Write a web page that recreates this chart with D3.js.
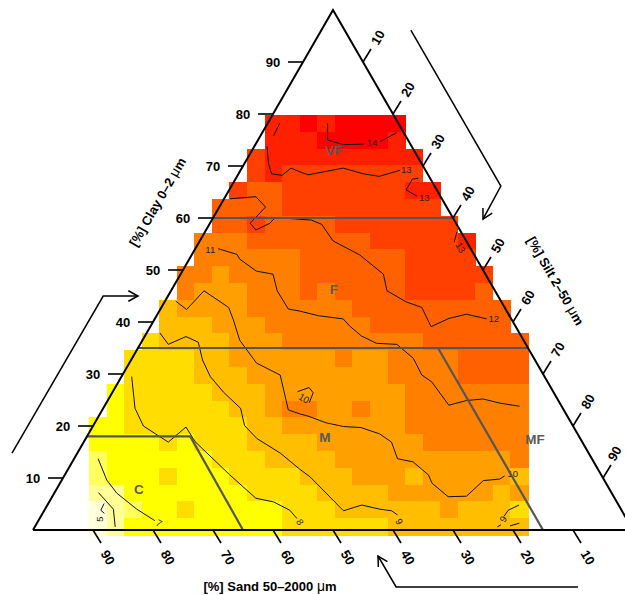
<!DOCTYPE html>
<html><head><meta charset="utf-8">
<script src="https://cdn.jsdelivr.net/npm/d3@7/dist/d3.min.js"></script>
<style>html,body{margin:0;padding:0;background:#fff}svg{display:block}text{font-family:"Liberation Sans",Arial,sans-serif}</style>
</head><body><svg id="c" width="625" height="595"></svg>
<script>
// Raster: first filled column of each row, and the cell values (soil property) per row from the top row down
const rowStart=[10,10,9,9,8,7,7,6,6,5,5,4,4,3,2,2,1,1,0,0,0,0,0,0,0];
const r00=[14,14,14.5,14,14.5,14.5,14.5,14.5];
const r01=[14,14,14,14.5,14.5,14.5,14.5,14];
const r02=[13,14,14,14,14,14,14,14,14,14];
const r03=[13,14,13,13,13,13,13,13,13,13];
const r04=[13,12,12,13,13,13,13,13,13,13,14,14];
const r05=[12,12,12,12,13,13,13,13,13,13,13,13,13];
const r06=[12,12,13,12,12,12,12,13,13,13,13,13,13,13];
const r07=[11,11,11,12,12,12,12,12,12,12,13,13,13,13,13,14];
const r08=[11,11,11,11,11,11,12,12,12,12,12,12,13,13,13,13];
const r09=[11,11,10,11,11,11,11,12,12,12,12,12,12,13,13,13,13,13];
const r10=[11,10,10,10,11,11,11,12,11,12,12,12,12,13,13,13,13,12];
const r11=[9.5,10,10,10,10,11,11,11,11,11,11,12,12,12,12,12,12,12,12,12];
const r12=[9.5,9.5,9.5,10,10,10,11,11,11,11,11,11,12,12,12,12,12,12,12,12];
const r13=[8.5,9.5,9.5,9.5,9.5,10,10,10,11,11,11,11,11,11,11,11,12,12,12,12,12,12];
const r14=[8.5,8.5,8.5,8.5,9.5,9.5,10,10,10,10,10,10,11,10,10,11,11,11,11,12,12,12,12];
const r15=[8.5,8.5,8.5,8.5,9.5,9.5,9.5,10,10,10,10,10,10,10,10,11,11,11,11,12,12,12,12];
const r16=[7.5,8.5,8.5,8.5,8.5,8.5,9.5,9.5,9.5,10,10,10,10,10,10,10,10,11,11,11,11,11,11,11];
const r17=[7.5,8.5,8.5,8.5,8.5,8.5,8.5,9.5,9.5,10,11,11,10,10,11,10,10,11,11,11,11,11,11,11];
const r18=[7.5,7.5,8.5,8.5,8.5,8.5,8.5,8.5,8.5,9.5,9.5,10,10,10,10,10,10,10,11,11,11,11,11,11,11];
const r19=[7.5,7.5,7.5,7.5,8.5,7.5,8.5,8.5,8.5,9.5,9.5,9.5,9.5,10,10,10,10,10,10,11,11,11,11,11,11];
const r20=[6.5,7.5,7.5,7.5,7.5,7.5,7.5,8.5,8.5,8.5,9.5,9.5,9.5,9.5,10,10,10,10,10,10,10,10,10,10,11];
const r21=[6.5,7.5,7.5,7.5,8.5,7.5,7.5,7.5,8.5,8.5,8.5,8.5,9.5,9.5,9.5,10,10,10,9.5,10,10,10,10,10,9.5];
const r22=[6,6,7.5,7.5,7.5,7.5,7.5,7.5,7.5,8.5,8.5,8.5,8.5,9.5,9.5,9.5,9.5,10,10,10,10,10,10,9.5,10];
const r23=[5.5,6,6.5,7.5,7.5,8.5,7.5,7.5,7.5,7.5,7.5,8.5,8.5,8.5,9.5,9.5,9.5,9.5,9.5,9.5,10,9.5,9.5,9.5,8.5];
const r24=[5.5,6,7.5,7.5,7.5,7.5,7.5,7.5,7.5,7.5,7.5,8.5,8.5,8.5,8.5,8.5,8.5,9.5,9.5,9.5,9.5,9.5,9.5,9.5,9.5];
const rasterRows=[r00,r01,r02,r03,r04,r05,r06,r07,r08,r09,r10,r11,r12,r13,r14,r15,r16,r17,r18,r19,r20,r21,r22,r23,r24];
const breaks=[5.75,6.25,7,8,9,9.75,10.5,11.5,12.5,13.5,14.25];
const ramp=["#FFFFD8","#FFFF98","#FFFF60","#FFFF00","#FFDD00","#FFBF00","#FF9F00","#FF8000","#FF6000","#FF4000","#FF2000","#FF0000"];

// Contours as [silt %, clay %]
const c14a=[[10,78.2],[11.6,75],[14.7,74.1],[18,74.2]];
const c14b=[[20.5,74.7],[22.4,76.4]];
const c13a=[[2,78.2],[2.2,75.8]];
const c13b=[[2.1,73.8],[4,70.5],[5.5,68.5],[7.4,68.2],[8.2,69.6],[10,68.9],[11.7,68.3],[16.9,69.6],[20.8,68.5],[23.7,68],[26.6,69.2]];
const c13c=[[30.4,67.6],[29.5,67.5],[29.5,65.4],[31.9,64.2]];
const c13d=[[42,57.3],[42.5,55.4]];
const c12=[[1,63.7],[5.1,64.1],[7.7,62.1],[6.7,59],[8.3,57.7],[10,59],[10.3,60.1],[16.6,59.6],[18.7,58.8],[22.2,55.6],[28,52.9],[33.8,49.2],[36,46],[40.2,43.9],[43.4,42.8],[46.8,39.1],[49,40.7],[51.5,41.5],[55.3,40.6]];
const c11=[[3.8,54.1],[7.5,53],[8.4,52.1],[12.3,49.8],[15.4,49.2],[17.7,46],[21.3,42.5],[23.4,42.1],[27,41.2],[31.4,40.6],[33.2,39.2],[36.1,37.3],[39.3,35.9],[42.8,35.7],[46.9,33],[49.9,29.8],[52.2,28.5],[57.3,24],[59.8,24.9],[62.4,25.2],[65.6,24.4],[69.2,23.8]];
const c10a=[[1.8,44],[4.4,42.4],[5.5,46],[11.2,42.8],[13.2,40.4],[16.2,36.5],[21.2,32.1],[26.3,29.8],[31,23.1],[33.4,22.3],[34.9,21.9],[38.6,20.6],[41.8,19.9],[44.8,19.7],[48.5,18.5],[51.3,16.9],[53.9,13.7],[56.8,13.1],[60.6,10.6],[62,9],[66,6.4],[69,6.5],[70.3,9.5],[72.9,9.8],[73.4,10.4]];
const c10b=[[30.8,26.6],[32.3,27.4],[33.5,26.4],[33.8,24.5]];
const c9a=[[2.2,37.9],[4.7,35.7],[6.9,37.2],[9.5,36.1],[11.9,32.7],[14.8,29.5],[18.5,26.5],[22.9,23.4],[25.2,20.1],[28.5,17.6],[33.8,14.8],[38.6,11.7],[41.1,10.2],[49.9,3.7],[52.4,4.8],[55.8,4],[57.9,3.7],[59.3,2.9]];
const c9b=[[78.6,4.8],[77.3,3.8],[77.2,2.6]];
const c9c=[[77.5,1],[77.1,0.6]];
const c9d=[[80.4,1.3],[79.1,0.8]];
const c8=[[1.7,29.5],[5.3,23.4],[8.4,20],[14.1,16.9],[15.6,19.8],[18.5,17],[27.5,10.6],[34.1,6.1],[37.4,5.4],[40.9,3.8],[42.9,2.2]];
const c7=[[4,13.7],[7.5,9.6],[10.4,7.1],[15.3,4],[19.4,1.8]];
const c6=[[7.3,7.2],[11.4,4],[13.4,0.6]];
const c5=[[9.3,5.1],[9.4,3.8],[10.3,3.2]];
const contours=[c14a,c14b,c13a,c13b,c13c,c13d,c12,c11,c10a,c10b,c9a,c9b,c9c,c9d,c8,c7,c6,c5];
// Contour labels: text, silt, clay, angle
const contourLabels=[["14",19.25,74.5,0],["13",27.6,69.2,0],["13",33.2,64,0],["13",44.1,54.3,60],["12",56.5,40.6,0],["11",2.6,53.9,0],["10",74.5,10.9,0],["10",32.5,25.3,30],["9",60.25,1.6,60],["9",77.3,2.1,-60],["8",43.75,1.5,60],["7",20.35,1.3,30],["5",10.1,2.1,-90]];

// Texture class boundaries as [silt, clay] vertices
const classLines=[[[0,60],[40,60]],[[0,35],[65,35]],[[0,18],[17.2,18],[35,0]],[[50,35],[85,0]]];
const classNames=["VF","F","M","MF","C"];
const classPos=[[13.6,73.1],[27,46.3],[39.7,17.9],[74.9,17.5],[13.7,7.9]];
const ticks=[10,20,30,40,50,60,70,80,90];
// Direction arrows as [silt, clay] vertices
const arrowClay=[[-10.9,14.8],[-10.8,45],[-5,45]];
const arrowSilt=[[14.9,96.15],[44.9,66.15],[45.1,59.8]];
const arrowSand=[[96.3,-10.96],[66,-10.96],[60,-5]];

const svg=d3.select("#c");
const bx=d3.scaleLinear().domain([0,100]).range([33,633]);   // position along the base (silt + clay/2)
const cy=d3.scaleLinear().domain([0,100]).range([530,10]);   // clay
const X=(si,cl)=>bx(si+cl/2), Y=cl=>cy(cl);
const colorOf=d3.scaleThreshold().domain(breaks).range(ramp);
const colBand=d3.scaleBand().domain(d3.range(25)).range([89,528]);
const rowBand=d3.scaleBand().domain(d3.range(25)).range([115,535]);

rasterRows.forEach((vals,r)=>{
  svg.append("g").attr("shape-rendering","crispEdges").selectAll("rect").data(vals).join("rect")
    .attr("x",(d,i)=>colBand(rowStart[r]+i)).attr("y",rowBand(r))
    .attr("width",colBand.bandwidth()+0.5).attr("height",rowBand.bandwidth()+0.5)
    .attr("fill",d=>colorOf(d));
});

const ln=d3.line().x(d=>X(d[0],d[1])).y(d=>Y(d[1]));
svg.append("g").selectAll("path").data(contours).join("path")
  .attr("d",ln).attr("fill","none").attr("stroke","#111").attr("stroke-width",1);
svg.append("g").selectAll("text").data(contourLabels).join("text")
  .attr("transform",d=>`translate(${X(d[1],d[2])},${Y(d[2])}) rotate(${d[3]})`)
  .attr("text-anchor","middle").attr("dy","0.35em").attr("font-size",9.5).attr("fill","#222").text(d=>d[0]);

svg.append("g").selectAll("path").data(classLines).join("path")
  .attr("d",ln).attr("fill","none").attr("stroke","#555").attr("stroke-width",2.2);
svg.append("g").selectAll("text").data(classNames).join("text")
  .attr("x",(d,i)=>X(classPos[i][0],classPos[i][1])).attr("y",(d,i)=>Y(classPos[i][1]))
  .attr("text-anchor","middle").attr("dy","0.35em").attr("font-size",13.5).attr("font-weight","bold").attr("fill","#5a5a5a").text(d=>d);

svg.append("path").attr("d",ln([[0,0],[0,100],[100,0],[0,0]])).attr("fill","none").attr("stroke","#000").attr("stroke-width",2);

const g=svg.append("g");
const lab=(x,y,a,t)=>g.append("text").attr("transform",`translate(${x},${y}) rotate(${a})`)
  .attr("text-anchor","middle").attr("dy","0.36em").attr("font-size",13).attr("font-weight","bold").attr("fill","#000").text(t);
const tk=(x,y,dx,dy)=>g.append("line").attr("x1",x).attr("y1",y).attr("x2",x+dx).attr("y2",y+dy).attr("stroke","#000").attr("stroke-width",1.6);
ticks.forEach(t=>{
  let x=X(0,t),y=Y(t); tk(x,y,-15,0); lab(x-30,y+0.5,0,t);
  // silt labels stay inside the right edge of the window
  x=X(t,100-t); y=Y(100-t); tk(x,y,8,-13); lab(Math.min(x+14.8,614.5),y-24.6,-60,t);
  x=X(100-t,0); y=Y(0); tk(x,y,8,13); lab(x+15,y+27.5,60,t);
});

function title(x,y,a,pre,post){
  const t=svg.append("text").attr("transform",`translate(${x},${y}) rotate(${a})`).attr("text-anchor","middle")
    .attr("dy","0.35em").attr("font-size",13).attr("font-weight","bold").attr("fill","#000");
  t.append("tspan").text(pre);
  t.append("tspan").attr("font-weight","normal").attr("font-size",14).text("μ");
  t.append("tspan").text(post);
}
title(157.5,202,-60,"[%] Clay 0–2 ","m");
title(555.5,281,60,"[%] Silt 2–50 ","m");
title(270,586,0,"[%] Sand 50–2000 ","m");

function arrow(pts){
  const p=pts.map(d=>[X(d[0],d[1]),Y(d[1])]);
  svg.append("path").attr("d",d3.line()(p)).attr("fill","none").attr("stroke","#000").attr("stroke-width",1.5);
  const a=p[p.length-1],b=p[p.length-2],ang=Math.atan2(a[1]-b[1],a[0]-b[0]),L=11,w=0.5;
  svg.append("path").attr("d",d3.line()([[a[0]-L*Math.cos(ang-w),a[1]-L*Math.sin(ang-w)],a,[a[0]-L*Math.cos(ang+w),a[1]-L*Math.sin(ang+w)]]))
    .attr("fill","none").attr("stroke","#000").attr("stroke-width",1.5);
}
[arrowClay,arrowSilt,arrowSand].forEach(arrow);
</script></body></html>
